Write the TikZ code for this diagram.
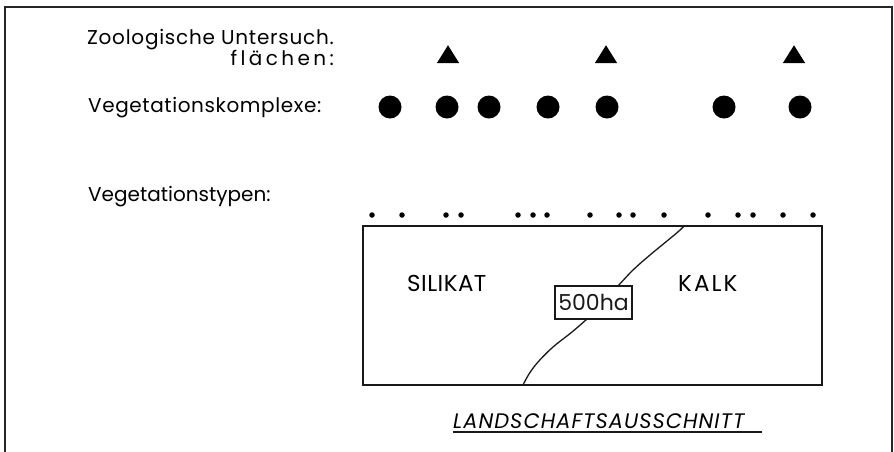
\documentclass[tikz,border=0pt]{standalone}
\usepackage{fontspec}
\setmainfont{Poppins}
\usetikzlibrary{shapes.geometric}
\newcommand{\trk}[1]{\addfontfeature{LetterSpace=#1}}
\begin{document}
\begin{tikzpicture}[x=1pt,y=-1pt,
  lbl/.style={anchor=base west,inner sep=0pt,font=\fontsize{20}{18}\selectfont},
  region/.style={anchor=base west,inner sep=0pt,font=\fontsize{23}{26}\selectfont},
  bigdot/.style={circle,fill=black,inner sep=0pt,minimum size=23pt},
  smalldot/.style={circle,fill=black,inner sep=0pt,minimum size=5.5pt},
  site/.style={isosceles triangle,isosceles triangle apex angle=64,shape border rotate=90,fill=black,inner sep=0pt,minimum height=18pt,minimum width=21pt},
  frameline/.style={line width=1.6pt,black!85},
  thin/.style={line width=1.3pt,black!90}]
\useasboundingbox (0,0) rectangle (894,451);
% outer frame (open at the bottom edge)
\draw[frameline] (5,455) -- (5,7) -- (892,7) -- (892,455);

% row labels
\node[lbl,anchor=base east] (zoo) at (334,65)
  {\begin{tabular}[b]{@{}r@{}}\trk{3.8}Zoologische Untersuch.\\ \trk{17}flächen:\end{tabular}};
\node[lbl] (vk) at (88,112) {\trk{3}Vegetationskomplexe:};
\node[lbl] (vt) at (88,201) {Vegetationstypen:};

% study sites
\foreach \x [count=\i] in {448,606,794}
  \node[site] (t\i) at (\x,57) {};

% vegetation complexes
\foreach \x [count=\i] in {390,447,489,548,607,724,800}
  \node[bigdot] (c\i) at (\x,107) {};

% vegetation types
\foreach \x [count=\i] in {372,402,446,461,518,533,547,590,619,633,664,708,738,753,783,813}
  \node[smalldot] (d\i) at (\x,215) {};

% landscape section
\node[draw,thin,minimum width=459pt,minimum height=159pt,inner sep=0pt] (land) at (592.5,305.5) {};
\node[region] (sil) at (407,291) {\trk{2}SILIKAT};
\node[region] (kalk) at (678,291) {\trk{9}KALK};
\node[draw,thin,inner sep=0pt,minimum width=77pt,minimum height=33pt,font=\fontsize{22}{24}\selectfont] (ha) at (593.5,302.5) {500ha};

% geological boundary
\coordinate (bLow) at (523,385);
\coordinate (bTop) at (684,226);
\draw[thin] plot[smooth,tension=0.6] coordinates {(bLow) (529,374) (538,362) (553,347) (572,332) (587,319)};
\draw[thin] plot[smooth,tension=0.6] coordinates {(618,286) (633,270) (650,255) (667,241) (679,231) (bTop)};

% caption
\node[anchor=base west,inner sep=0pt,font=\fontsize{21}{24}\selectfont\itshape\trk{5}] (cap) at (453,428) {LANDSCHAFTSAUSSCHNITT};
\draw[thin] (453,432) -- (762,432);
\end{tikzpicture}
\end{document}
